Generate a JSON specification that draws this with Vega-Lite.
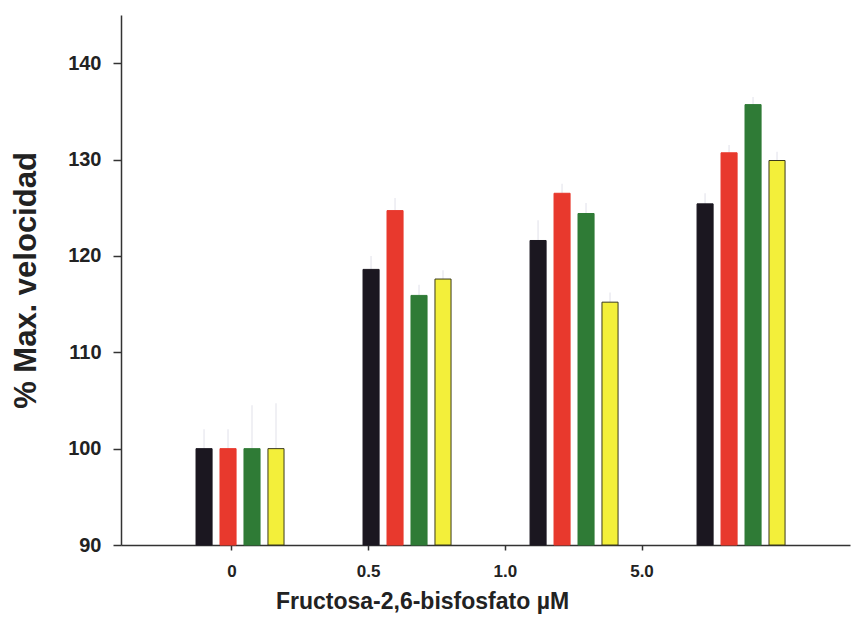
{
  "$schema": "https://vega.github.io/schema/vega-lite/v6.json",
  "width": 729,
  "height": 530,
  "autosize": {"type": "none"},
  "padding": {"left": 121, "top": 15, "right": 3, "bottom": 75},
  "background": "white",
  "config": {"view": {"stroke": null}, "font": "Liberation Sans"},
  "data": {
    "values": [
      {"conc": "0", "series": "A", "value": 100, "hi": 102},
      {"conc": "0", "series": "B", "value": 100, "hi": 102},
      {"conc": "0", "series": "C", "value": 100, "hi": 104.5},
      {"conc": "0", "series": "D", "value": 100, "hi": 104.7},
      {"conc": "0.5", "series": "A", "value": 118.6, "hi": 120},
      {"conc": "0.5", "series": "B", "value": 124.7, "hi": 126},
      {"conc": "0.5", "series": "C", "value": 115.9, "hi": 117},
      {"conc": "0.5", "series": "D", "value": 117.6, "hi": 118.5},
      {"conc": "1.0", "series": "A", "value": 121.6, "hi": 123.7},
      {"conc": "1.0", "series": "B", "value": 126.5, "hi": 127.5},
      {"conc": "1.0", "series": "C", "value": 124.4, "hi": 125.5},
      {"conc": "1.0", "series": "D", "value": 115.2, "hi": 116.2},
      {"conc": "5.0", "series": "A", "value": 125.4, "hi": 126.5},
      {"conc": "5.0", "series": "B", "value": 130.7, "hi": 131.5},
      {"conc": "5.0", "series": "C", "value": 135.7, "hi": 136.5},
      {"conc": "5.0", "series": "D", "value": 129.9, "hi": 130.8}
    ]
  },
  "layer": [
    {
      "layer": [
        {
          "mark": {"type": "rule", "color": "#ebebf1", "strokeWidth": 1.5},
          "encoding": {
            "x": {"field": "conc", "type": "nominal", "sort": ["0", "0.5", "1.0", "5.0"], "scale": {"paddingInner": 0.473, "paddingOuter": 0.419, "align": 0.536}, "axis": null},
            "xOffset": {"field": "series", "type": "nominal", "scale": {"paddingInner": 0.33, "paddingOuter": 0}},
            "y": {"field": "value", "type": "quantitative", "title": "% Max. velocidad"},
            "y2": {"field": "hi"}
          }
        },
        {
          "mark": {"type": "bar", "strokeWidth": 1},
          "encoding": {
            "x": {"field": "conc", "type": "nominal", "sort": ["0", "0.5", "1.0", "5.0"], "scale": {"paddingInner": 0.473, "paddingOuter": 0.419, "align": 0.536}, "axis": null},
            "xOffset": {"field": "series", "type": "nominal", "scale": {"paddingInner": 0.33, "paddingOuter": 0}},
            "y": {
              "field": "value",
              "type": "quantitative",
              "scale": {"domain": [90, 145], "nice": false, "zero": false},
              "axis": {
                "title": "% Max. velocidad",
                "titleFontSize": 31,
                "titleFontWeight": "bold",
                "titleColor": "#222",
                "titlePadding": 25,
                "values": [90, 100, 110, 120, 130, 140],
                "labelFontSize": 20,
                "labelFontWeight": "bold",
                "labelColor": "#222",
                "labelPadding": 12,
                "tickSize": 8,
                "tickColor": "#333",
                "tickWidth": 1.5,
                "domainColor": "#333",
                "domainWidth": 1.5,
                "grid": false
              }
            },
            "y2": {"datum": 90},
            "fill": {"field": "series", "type": "nominal", "scale": {"domain": ["A", "B", "C", "D"], "range": ["#1b1720", "#e8392d", "#2f7b36", "#f3ef3a"]}, "legend": null},
            "stroke": {"field": "series", "type": "nominal", "scale": {"domain": ["A", "B", "C", "D"], "range": ["#1b1720", "#e8392d", "#2f7b36", "#3b3a1c"]}, "legend": null}
          }
        }
      ]
    },
    {
      "mark": {"type": "point", "opacity": 0},
      "encoding": {
        "x": {
          "field": "conc",
          "type": "nominal",
          "sort": ["0", "0.5", "1.0", "5.0"],
          "scale": {"type": "band", "paddingInner": 0, "paddingOuter": 0.667, "align": 0.234},
          "axis": {
            "title": "Fructosa-2,6-bisfosfato µM",
            "titleFontSize": 23,
            "titleFontWeight": "bold",
            "titleColor": "#222",
            "titleX": 301,
            "titlePadding": 11,
            "labelFontSize": 17,
            "labelFontWeight": "bold",
            "labelColor": "#222",
            "labelAngle": 0,
            "labelPadding": 13,
            "tickSize": 5,
            "tickColor": "#333",
            "tickWidth": 1.5,
            "domainColor": "#333",
            "domainWidth": 1.5,
            "grid": false
          }
        }
      }
    }
  ],
  "resolve": {"scale": {"x": "independent"}, "axis": {"x": "independent"}}
}
